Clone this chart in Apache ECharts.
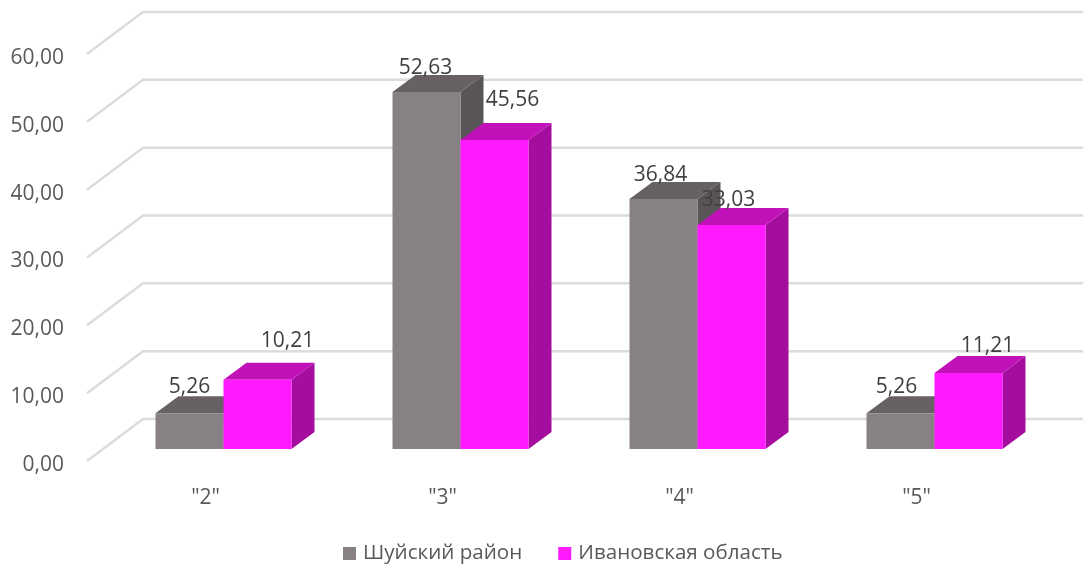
<!DOCTYPE html>
<html><head><meta charset="utf-8">
<style>html,body{margin:0;padding:0;background:#fff}#c{width:1083px;height:565px}</style>
<script src="https://cdn.jsdelivr.net/npm/echarts@6/dist/echarts.min.js"></script>
</head><body><div id="c"></div>
<script>
const categories = ['"2"','"3"','"4"','"5"'];
const nameA = 'Шуйский район';
const nameB = 'Ивановская область';
const valuesA = [5.26, 52.63, 36.84, 5.26];
const valuesB = [10.21, 45.56, 33.03, 11.21];
const ticks = [0,10,20,30,40,50,60];
// hand-placed label nudges of the original (px, relative to the bar's front-top centre)
const nudgeA = [[0,-26],[-1,-24],[-3,-24],[-4,-26]];
const nudgeB = [[30,-39],[18,-40],[-3,-25],[19,-27]];

const FONT = '"Open Sans", sans-serif';
const WALL = [56,-42];      // full depth of the chart box
const FRONT = [16,-12];     // offset of bar fronts into the box
const DEPTH = [23,-17];     // depth of each bar
const BAR_W = 68;
const fmt = v => v.toFixed(2).replace('.', ',');

function wallItem(params, api){
  const p = api.coord([0, api.value(1)]);
  const cs = params.coordSys;
  const x0 = cs.x, y = p[1];
  return {type:'polyline', silent:true, shape:{points:[[x0,y],[x0+WALL[0],y+WALL[1]],[x0+cs.width+WALL[0],y+WALL[1]]]},
    style:{stroke:'#dcdcdc', lineWidth:2.5, fill:null}};
}
function barRenderer(side, front, top, right, nudges){
  return function(params, api){
    const i = api.value(0), v = api.value(1);
    const c = api.coord([i, v]), b = api.coord([i, 0]);
    const mid = c[0] + FRONT[0] + 2;
    const x0 = side < 0 ? mid - BAR_W : mid, x1 = x0 + BAR_W;
    const yt = c[1] + FRONT[1], yb = b[1] + FRONT[1];
    const dx = DEPTH[0], dy = DEPTH[1];
    const n = nudges[i];
    return {type:'group', children:[
      {type:'polygon', shape:{points:[[x1,yt],[x1+dx,yt+dy],[x1+dx,yb+dy],[x1,yb]]}, style:{fill:right}},
      {type:'polygon', shape:{points:[[x0,yt],[x0+dx,yt+dy],[x1+dx,yt+dy],[x1,yt]]}, style:{fill:top}},
      {type:'rect', shape:{x:x0,y:yt,width:BAR_W,height:yb-yt}, style:{fill:front}},
      {type:'text', z2:10, style:{x:(x0+x1)/2+n[0], y:yt+n[1], text:fmt(v), fill:'#404040',
        font:'21px '+FONT, align:'center', verticalAlign:'middle'}}
    ]};
  };
}
const chart = echarts.init(document.getElementById('c'), null, {renderer:'canvas'});
chart.setOption({
  animation:false,
  backgroundColor:'#fff',
  grid:{left:87, top:54, width:948, height:407, containLabel:false},
  xAxis:{type:'category', data:categories, axisLine:{show:false}, axisTick:{show:false}, splitLine:{show:false},
    axisLabel:{color:'#595959', fontFamily:FONT, fontSize:21, margin:27}},
  yAxis:{type:'value', min:0, max:60, interval:10, axisLine:{show:false}, axisTick:{show:false}, splitLine:{show:false},
    axisLabel:{margin:23, formatter:v => '{a|'+fmt(v)+'}',
      rich:{a:{color:'#595959', fontFamily:FONT, fontSize:21, padding:[8,0,0,0]}}}},
  legend:{data:[nameA,nameB], left:338, top:538, icon:'rect', itemWidth:13, itemHeight:13, itemGap:36,
    textStyle:{color:'#595959', fontFamily:FONT, fontSize:20.6, padding:[0,0,0,2]}},
  series:[
    {type:'custom', name:'walls', coordinateSystem:'cartesian2d', renderItem:wallItem, clip:false, silent:true, z:1,
      data:ticks.map(t=>[0,t])},
    {type:'custom', name:nameA, coordinateSystem:'cartesian2d', clip:false, z:2, itemStyle:{color:'#878085'},
      renderItem:barRenderer(-1,'#878085','#676065','#595457',nudgeA), data:valuesA.map((v,i)=>[i,v])},
    {type:'custom', name:nameB, coordinateSystem:'cartesian2d', clip:false, z:3, itemStyle:{color:'#ff1aff'},
      renderItem:barRenderer(1,'#ff1aff','#c012b8','#a40d9e',nudgeB), data:valuesB.map((v,i)=>[i,v])}
  ]
});
</script></body></html>
